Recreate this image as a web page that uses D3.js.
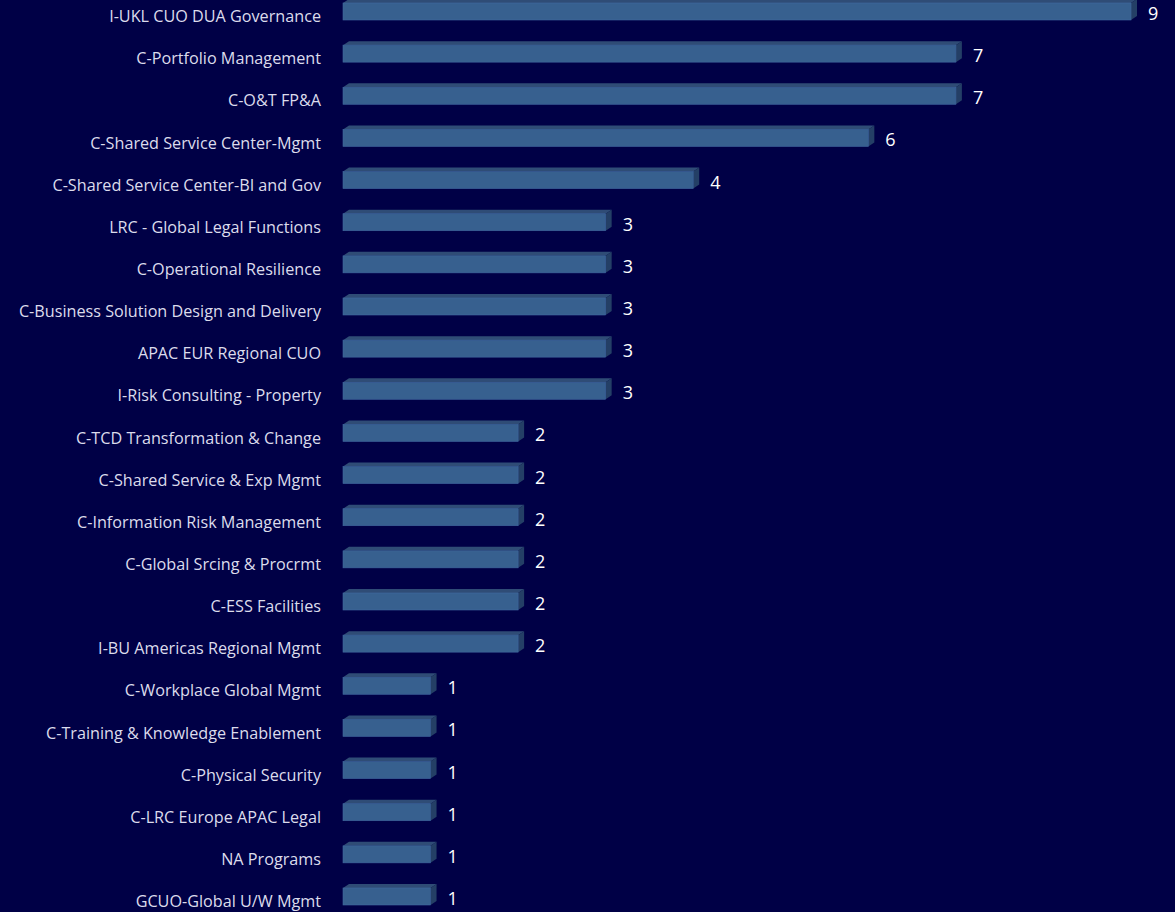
<!DOCTYPE html>
<html>
<head>
<meta charset="utf-8">
<script src="https://cdn.jsdelivr.net/npm/d3@7"></script>
<style>
  html, body { margin: 0; padding: 0; background: #000046; }
  svg { display: block; }
</style>
</head>
<body>
<div id="chart"></div>
<script>
// categories top to bottom
const categories = [
  'I-UKL CUO DUA Governance',
  'C-Portfolio Management',
  'C-O&T FP&A',
  'C-Shared Service Center-Mgmt',
  'C-Shared Service Center-BI and Gov',
  'LRC - Global Legal Functions',
  'C-Operational Resilience',
  'C-Business Solution Design and Delivery',
  'APAC EUR Regional CUO',
  'I-Risk Consulting - Property',
  'C-TCD Transformation & Change',
  'C-Shared Service & Exp Mgmt',
  'C-Information Risk Management',
  'C-Global Srcing & Procrmt',
  'C-ESS Facilities',
  'I-BU Americas Regional Mgmt',
  'C-Workplace Global Mgmt',
  'C-Training & Knowledge Enablement',
  'C-Physical Security',
  'C-LRC Europe APAC Legal',
  'NA Programs',
  'GCUO-Global U/W Mgmt'
];
const counts = [9, 7, 7, 6, 4, 3, 3, 3, 3, 3, 2, 2, 2, 2, 2, 2, 1, 1, 1, 1, 1, 1];

const W = 1175, H = 912;
const barH = 17, depthX = 6, depthY = 4;

const svg = d3.select('#chart').append('svg')
    .attr('width', W)
    .attr('height', H);

svg.append('rect').attr('width', W).attr('height', H).attr('fill', '#000046');

const x = d3.scaleLinear().domain([0, 9]).range([343, 1131]);
const y = d3.scalePoint().domain(categories).range([11.5, 896.5]);

const data = categories.map((c, i) => ({ name: c, value: counts[i] }));

const rows = svg.selectAll('g.row')
    .data(data)
    .join('g')
    .attr('class', 'row')
    .attr('transform', d => 'translate(0,' + (y(d.name) - barH / 2) + ')');

// top face
rows.append('path')
    .attr('fill', '#2f4c76')
    .attr('d', d => {
        const x0 = x(0), x1 = x(d.value);
        return 'M' + x0 + ',0L' + (x0 + depthX) + ',' + (-depthY) +
               'L' + (x1 + depthX) + ',' + (-depthY) + 'L' + x1 + ',0Z';
    });

// side face
rows.append('path')
    .attr('fill', '#243f66')
    .attr('d', d => {
        const x1 = x(d.value);
        return 'M' + x1 + ',0L' + (x1 + depthX) + ',' + (-depthY) +
               'L' + (x1 + depthX) + ',' + (barH - depthY) + 'L' + x1 + ',' + barH + 'Z';
    });

// front face
rows.append('rect')
    .attr('x', x(0))
    .attr('y', 0)
    .attr('width', d => x(d.value) - x(0))
    .attr('height', barH)
    .attr('fill', '#37608f')
    .attr('stroke', '#4068a0')
    .attr('stroke-width', 0.6);

// value labels
rows.append('text')
    .attr('x', d => x(d.value) + depthX + 11)
    .attr('y', barH / 2 + 2)
    .attr('dy', '0.36em')
    .attr('fill', '#ffffff')
    .style('font-family', '"Open Sans", Lato, sans-serif')
    .style('font-size', '18px')
    .text(d => d.value);

// category labels
rows.append('text')
    .attr('x', 321)
    .attr('y', barH / 2 + 5)
    .attr('dy', '0.35em')
    .attr('text-anchor', 'end')
    .attr('fill', '#dcdcec')
    .style('font-family', '"Open Sans", Lato, sans-serif')
    .style('font-size', '16.2px')
    .text(d => d.name);
</script>
</body>
</html>
